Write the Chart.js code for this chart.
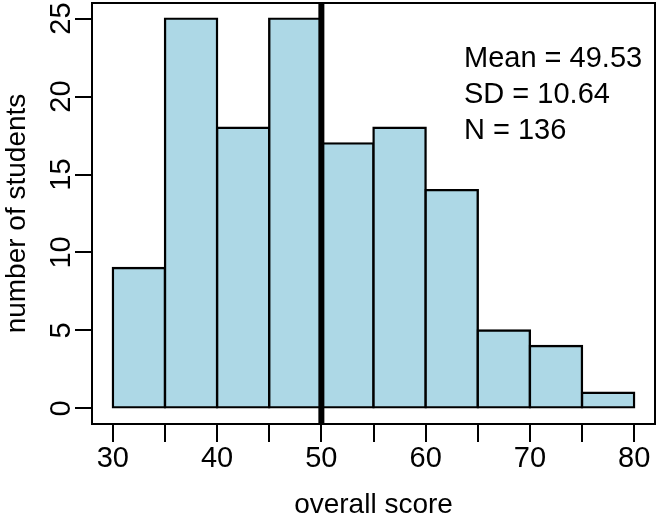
<!DOCTYPE html>
<html>
<head>
<meta charset="utf-8">
<script src="https://cdn.jsdelivr.net/npm/chart.js@4/dist/chart.umd.min.js"></script>
<style>
  body { margin: 0; background: #fff; }
  canvas { display: block; }
</style>
</head>
<body>
<canvas id="hist" width="660" height="517"></canvas>
<script>
// histogram bins (edges) and how many students fell in each
const binEdges = [30, 35, 40, 45, 50, 55, 60, 65, 70, 75, 80];
const counts = [9, 25, 18, 25, 17, 18, 14, 5, 4, 1];
const xTicks = [30, 40, 50, 60, 70, 80];
const yTicks = [0, 5, 10, 15, 20, 25];
const statLines = ['Mean = 49.53', 'SD = 10.64', 'N = 136'];
const refLine = 50;

const FONT = '"Liberation Sans", Arial, Helvetica, sans-serif';

const bars = counts.map((c, i) => ({ x: (binEdges[i] + binEdges[i + 1]) / 2, y: c }));

// box, mean line, rotated y labels, titles and the stats text (R base-graphics look)
const rDecor = {
    id: 'rDecor',
    afterDatasetsDraw(chart) {
        const { ctx, chartArea: a, scales: { x } } = chart;
        ctx.save();
        let px = x.getPixelForValue(refLine);
        ctx.strokeStyle = '#000'; ctx.lineWidth = 6;
        ctx.beginPath(); ctx.moveTo(px, a.top); ctx.lineTo(px, a.bottom); ctx.stroke();
        ctx.lineWidth = 2;
        ctx.strokeRect(a.left, a.top, a.right - a.left, a.bottom - a.top);
        ctx.restore();
    },
    afterDraw(chart) {
        const { ctx, chartArea: a, scales: { y } } = chart;
        ctx.save();
        ctx.fillStyle = '#000';
        ctx.font = '29px ' + FONT;
        // y tick labels, rotated like R's las=0
        yTicks.forEach(v => {
            ctx.save(); ctx.translate(70, y.getPixelForValue(v)); ctx.rotate(-Math.PI / 2);
            ctx.textAlign = 'center'; ctx.textBaseline = 'alphabetic'; ctx.fillText(String(v), 0, 0);
            ctx.restore();
        });
        // axis titles
        ctx.font = '28px ' + FONT;
        ctx.save(); ctx.translate(25, (a.top + a.bottom) / 2); ctx.rotate(-Math.PI / 2);
        ctx.textAlign = 'center'; ctx.textBaseline = 'alphabetic'; ctx.fillText('number of students', 0, 0);
        ctx.restore();
        ctx.textAlign = 'center'; ctx.textBaseline = 'alphabetic';
        ctx.fillText('overall score', (a.left + a.right) / 2, 513);
        // stats block
        ctx.font = '29px ' + FONT;
        ctx.textAlign = 'left';
        statLines.forEach((s, i) => ctx.fillText(s, 464, 67 + i * 36));
        ctx.restore();
    }
};

new Chart(document.getElementById('hist'), {
    type: 'bar',
    data: {
        datasets: [{
            data: bars,
            backgroundColor: '#ADD8E6',
            borderColor: '#000',
            borderWidth: 2.4,
            borderSkipped: false,
            inflateAmount: 1.2,
            barPercentage: 1,
            categoryPercentage: 1
        }]
    },
    options: {
        responsive: false,
        animation: false,
        layout: { padding: { top: 3, right: 5, left: 0, bottom: 0 } },
        plugins: { legend: { display: false }, tooltip: { enabled: false } },
        scales: {
            x: {
                type: 'linear', min: 28, max: 82, offset: false,
                grid: { offset: false, drawOnChartArea: false, drawTicks: true, tickLength: 18, color: '#000', lineWidth: 2 },
                border: { display: false },
                ticks: {
                    stepSize: 5, includeBounds: false, autoSkip: false, maxRotation: 0, padding: 0,
                    color: '#000', font: { family: FONT, size: 29 },
                    callback: v => xTicks.includes(v) ? String(v) : ''
                },
                afterFit: s => { s.height = 93; }
            },
            y: {
                min: -1, max: 26,
                grid: { drawOnChartArea: false, drawTicks: true, tickLength: 17, color: '#000', lineWidth: 2 },
                border: { display: false },
                ticks: { stepSize: 5, includeBounds: false, display: false },
                afterFit: s => { s.width = 92; }
            }
        }
    },
    plugins: [rDecor]
});
</script>
</body>
</html>
